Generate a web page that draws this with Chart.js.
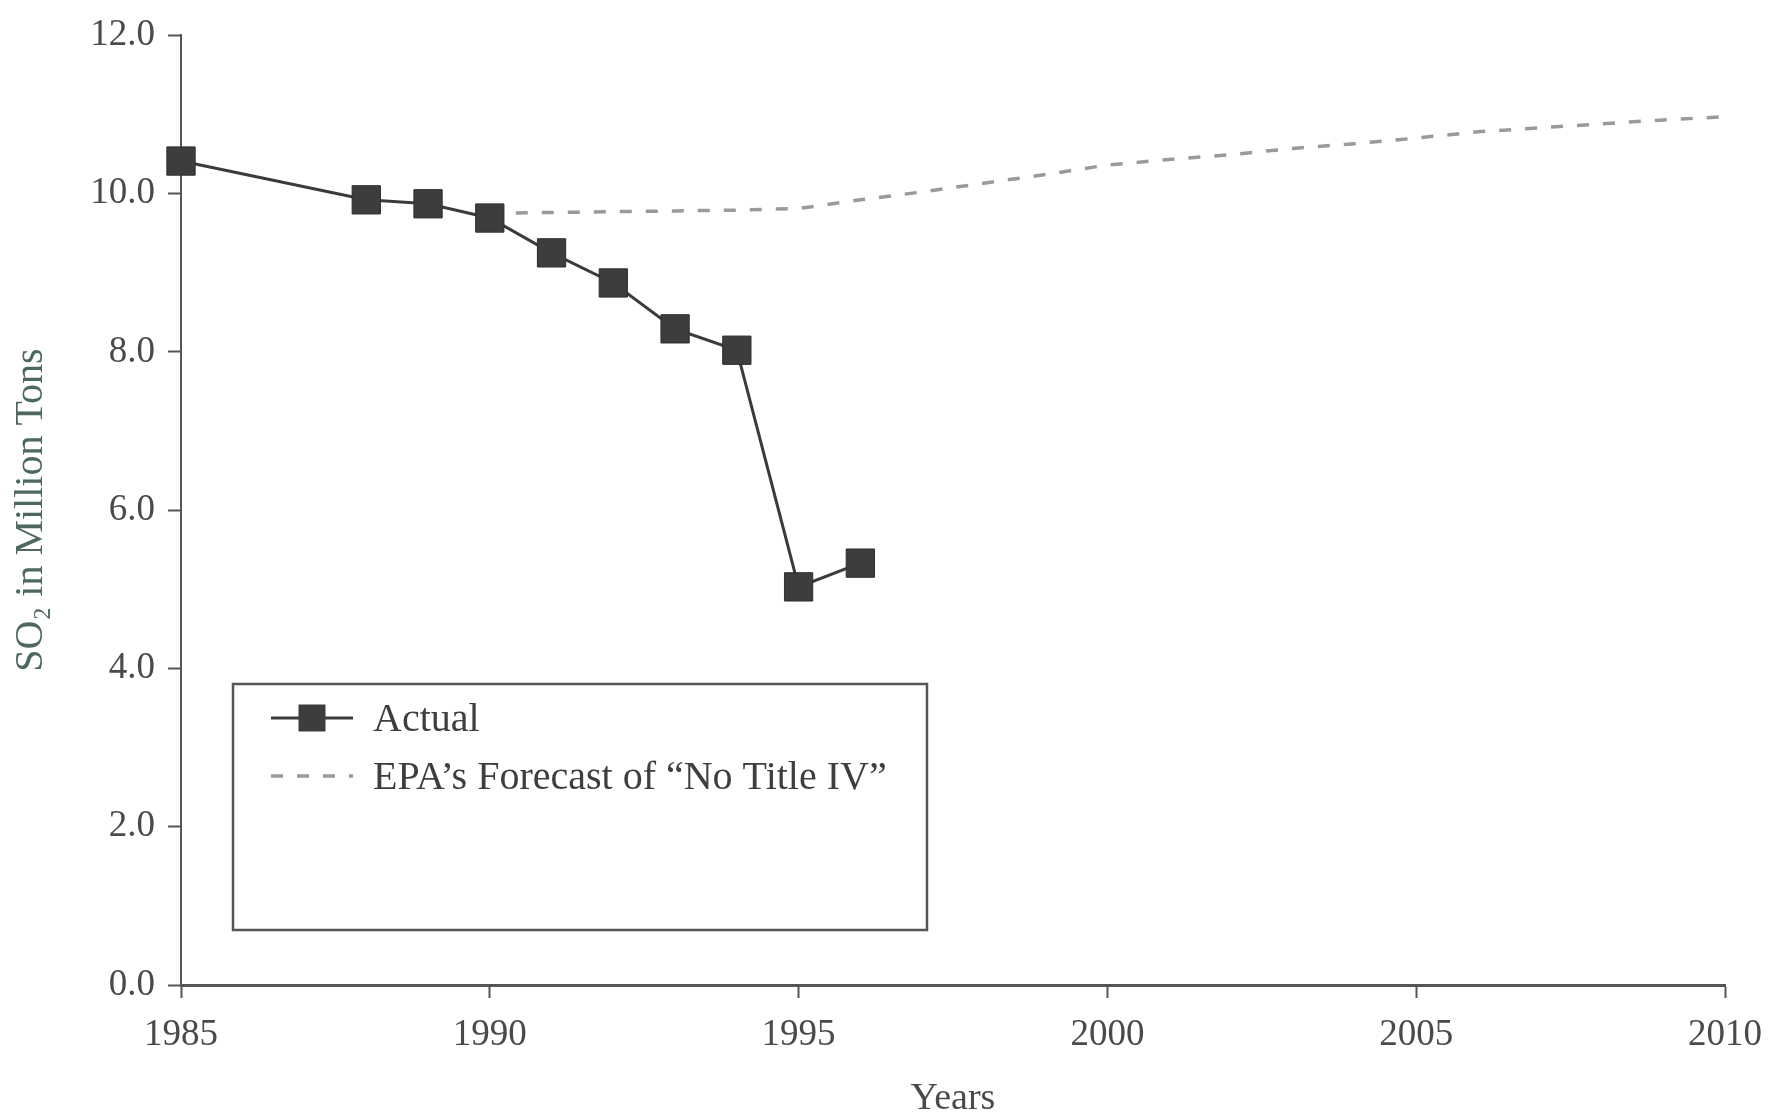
<!DOCTYPE html>
<html>
<head>
<meta charset="utf-8">
<title>SO2 emissions</title>
<script src="https://cdn.jsdelivr.net/npm/chart.js@4.4.1/dist/chart.umd.min.js"></script>
<style>
    html, body { margin: 0; padding: 0; background: #ffffff; }
    #wrap { width: 1773px; height: 1118px; }
</style>
</head>
<body>
<div id="wrap"><canvas id="so2Chart" width="1773" height="1118"></canvas></div>
<script>

// ================= data ======================
var actualYears = [1985, 1988, 1989, 1990, 1991, 1992, 1993, 1994, 1995, 1996];
var actualValues = [10.41, 9.92, 9.87, 9.69, 9.25, 8.87, 8.29, 8.02, 5.03, 5.33];

var forecastYears = [1990, 1991, 1992, 1993, 1994, 1995, 1996, 1997, 1998, 1999, 2000,
    2001, 2002, 2003, 2004, 2005, 2006, 2007, 2008, 2009, 2010];
var forecastValues = [9.75, 9.76, 9.77, 9.78, 9.79, 9.81, 9.92, 10.02, 10.13, 10.24, 10.36,
    10.43, 10.49, 10.57, 10.63, 10.70, 10.78, 10.83, 10.88, 10.93, 10.97];

var seriesLabels = ['Actual', 'EPA\u2019s Forecast of \u201cNo Title IV\u201d'];
var xTickValues = [1985, 1990, 1995, 2000, 2005, 2010];
var yTickValues = [0, 2, 4, 6, 8, 10, 12];

var fontFamily = '"Liberation Serif", "DejaVu Serif", serif';

function toPoints(xs, ys) {
    var pts = [];
    for (var i = 0; i < xs.length; i++) {
        pts.push({ x: xs[i], y: ys[i] });
    }
    return pts;
};

// legend drawn as a framed box inside the plot (like the printed figure)
var boxLegend = {
    id: 'boxLegend',
    afterDraw: function (chart) {
        var ctx = chart.ctx;
        var ds = chart.data.datasets;
        ctx.save();

        ctx.strokeStyle = '#555555';
        ctx.lineWidth = 2.5;
        ctx.strokeRect(233, 684, 694, 246);

        var rows = [718, 776];
        for (var i = 0; i < ds.length; i++) {
            var y = rows[i];
            ctx.beginPath();
            ctx.strokeStyle = ds[i].borderColor;
            ctx.lineWidth = ds[i].borderWidth;
            ctx.setLineDash(ds[i].borderDash || []);
            ctx.moveTo(271, y);
            ctx.lineTo(353, y);
            ctx.stroke();
            ctx.setLineDash([]);
            if (ds[i].pointRadius > 0) {
                ctx.fillStyle = ds[i].pointBackgroundColor;
                ctx.fillRect(312 - 13.5, y - 13.5, 27, 27);
            }
            ctx.fillStyle = '#3e3e3e';
            ctx.font = '40px ' + fontFamily;
            ctx.textBaseline = 'middle';
            ctx.textAlign = 'left';
            ctx.fillText(ds[i].label, 373, y + 2);
        }
        ctx.restore();
    }
};

function drawSO2Chart() {
    new Chart(document.getElementById('so2Chart').getContext('2d'), {
        type: 'line',
        data: {
            datasets: [{
                label: seriesLabels[0],
                data: toPoints(actualYears, actualValues),
                borderColor: '#3a3c3a',
                borderWidth: 3,
                pointStyle: 'rect',
                pointRadius: 20,
                pointBackgroundColor: '#3d3d3d',
                pointBorderColor: '#2e2e2e',
                pointBorderWidth: 1,
                tension: 0,
                clip: false
            }, {
                label: seriesLabels[1],
                data: toPoints(forecastYears, forecastValues),
                borderColor: '#9a9a9a',
                borderWidth: 3.5,
                borderDash: [12, 14],
                pointRadius: 0,
                tension: 0
            }]
        },
        options: {
            responsive: false,
            animation: false,
            devicePixelRatio: 1,
            layout: {
                padding: { top: 31, right: 48, left: 0, bottom: 0 }
            },
            plugins: {
                legend: { display: false },
                tooltip: { enabled: false }
            },
            scales: {
                x: {
                    type: 'linear',
                    min: 1985,
                    max: 2010,
                    afterFit: function (scale) {
                        scale.height = 133;
                        // keep the end labels from squeezing the plot
                        scale.paddingLeft = 40;
                        scale.paddingRight = 40;
                    },
                    afterBuildTicks: function (scale) {
                        scale.ticks = xTickValues.map(function (v) { return { value: v }; });
                    },
                    ticks: {
                        color: '#4a4a4a',
                        font: { family: fontFamily, size: 37 },
                        padding: 15,
                        maxRotation: 0,
                        callback: function (v) { return String(v); }
                    },
                    grid: {
                        drawOnChartArea: false,
                        drawTicks: true,
                        tickLength: 13,
                        tickWidth: 2,
                        color: '#555555'
                    },
                    border: { color: '#555555', width: 3 },
                    title: {
                        display: true,
                        text: 'Years',
                        color: '#4a4a4a',
                        font: { family: fontFamily, size: 38, lineHeight: 1 },
                        padding: { top: 0, bottom: 0 }
                    }
                },
                y: {
                    min: 0,
                    max: 12,
                    afterFit: function (scale) { scale.width = 181; },
                    afterBuildTicks: function (scale) {
                        scale.ticks = yTickValues.map(function (v) { return { value: v }; });
                    },
                    ticks: {
                        color: '#4a4a4a',
                        font: { family: fontFamily, size: 37 },
                        padding: 13,
                        callback: function (v) { return v.toFixed(1); }
                    },
                    grid: {
                        drawOnChartArea: false,
                        drawTicks: true,
                        tickLength: 13,
                        tickWidth: 2,
                        color: '#555555'
                    },
                    border: { color: '#555555', width: 2 },
                    title: {
                        display: true,
                        text: 'SO\u2082 in Million Tons',
                        color: '#4e6860',
                        font: { family: fontFamily, size: 40, lineHeight: 1 },
                        padding: { top: 11, bottom: 0 }
                    }
                }
            }
        },
        plugins: [boxLegend]
    });
};

drawSO2Chart();
</script>
</body>
</html>
